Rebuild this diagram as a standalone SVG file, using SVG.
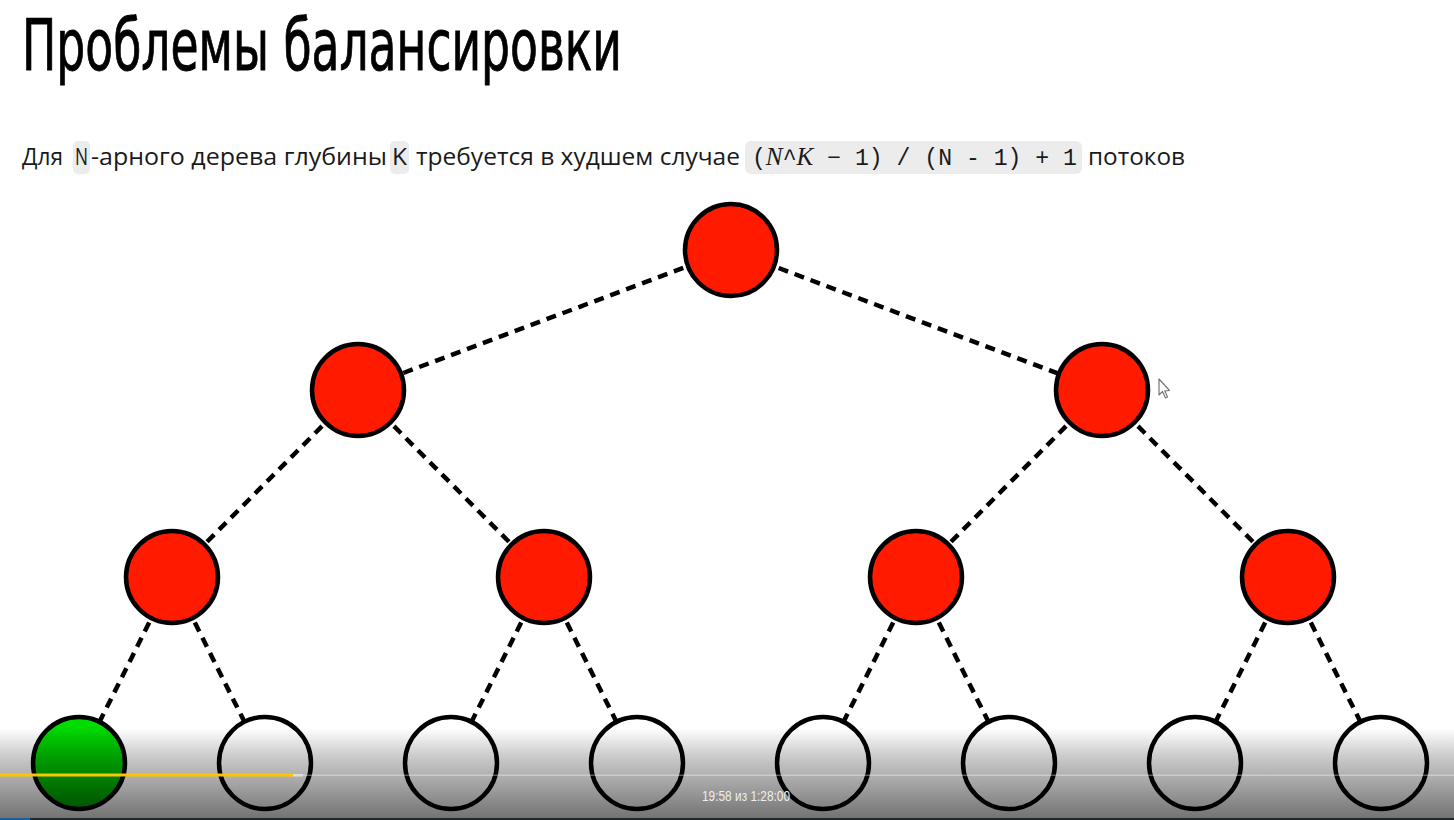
<svg xmlns="http://www.w3.org/2000/svg" width="1454" height="820" viewBox="0 0 1454 820">
  <style>
    .edge { stroke: #000; stroke-width: 4.5; stroke-dasharray: 10 7; fill: none; }
    .node { stroke: #000; stroke-width: 4.5; }
    .red { fill: #ff1a00; }
    .green { fill: url(#greenFill); }
    .empty { fill: #fff; }
    .txt { font-family: "Open Sans", "Noto Sans", sans-serif; font-size: 24px; fill: #1a1a1a; }
    .mono { font-family: "Liberation Mono", "DejaVu Sans Mono", monospace; font-size: 23px; fill: #1a1a1a; }
    .chip { fill: #ececec; }
  </style>
  <defs>
    <linearGradient id="greenFill" x1="0" y1="0" x2="0" y2="1">
      <stop offset="0" stop-color="#00e000"/>
      <stop offset="1" stop-color="#00a800"/>
    </linearGradient>
    <linearGradient id="shade" x1="0" y1="0" x2="0" y2="1">
      <stop offset="0" stop-color="#000" stop-opacity="0"/>
      <stop offset="0.3" stop-color="#000" stop-opacity="0.2"/>
      <stop offset="1" stop-color="#000" stop-opacity="0.56"/>
    </linearGradient>
  </defs>

  <rect width="1454" height="820" fill="#fff"/>

  <!-- heading -->
  <text x="22" y="70" font-family="DejaVu Sans, sans-serif" font-size="72" font-stretch="condensed" fill="#000" stroke="#000" stroke-width="0.9" textLength="600" lengthAdjust="spacingAndGlyphs">Проблемы балансировки</text>

  <!-- statement line with inline code chips -->
  <g id="statement">
    <rect class="chip" x="73" y="141" width="17" height="33" rx="5"/>
    <rect class="chip" x="390" y="141" width="19" height="33" rx="5"/>
    <rect class="chip" x="745" y="141" width="337" height="33" rx="6"/>
    <text class="txt" x="22" y="165" textLength="41" lengthAdjust="spacingAndGlyphs">Для</text>
    <text class="txt" x="75" y="165" textLength="13" lengthAdjust="spacingAndGlyphs">N</text>
    <text class="txt" x="91" y="165" textLength="296" lengthAdjust="spacingAndGlyphs">-арного дерева глубины</text>
    <text class="txt" x="392" y="165" textLength="15" lengthAdjust="spacingAndGlyphs">K</text>
    <text class="txt" x="416" y="165" textLength="324" lengthAdjust="spacingAndGlyphs">требуется в худшем случае</text>
    <text class="mono" x="752" y="165" textLength="325" lengthAdjust="spacingAndGlyphs">(<tspan font-family="Liberation Serif, serif" font-style="italic" font-size="25">N</tspan>^<tspan font-family="Liberation Serif, serif" font-style="italic" font-size="25">K</tspan> − 1) / (N - 1) + 1</text>
    <text class="txt" x="1088" y="165" textLength="97" lengthAdjust="spacingAndGlyphs">потоков</text>
  </g>

  <!-- tree edges -->
  <g id="edges">
    <line class="edge" x1="731" y1="250" x2="358" y2="390"/>
    <line class="edge" x1="731" y1="250" x2="1102" y2="390"/>
    <line class="edge" x1="358" y1="390" x2="172" y2="577"/>
    <line class="edge" x1="358" y1="390" x2="544" y2="577"/>
    <line class="edge" x1="1102" y1="390" x2="916" y2="577"/>
    <line class="edge" x1="1102" y1="390" x2="1288" y2="577"/>
    <line class="edge" x1="172" y1="577" x2="79" y2="763"/>
    <line class="edge" x1="172" y1="577" x2="265" y2="763"/>
    <line class="edge" x1="544" y1="577" x2="451" y2="763"/>
    <line class="edge" x1="544" y1="577" x2="637" y2="763"/>
    <line class="edge" x1="916" y1="577" x2="823" y2="763"/>
    <line class="edge" x1="916" y1="577" x2="1009" y2="763"/>
    <line class="edge" x1="1288" y1="577" x2="1195" y2="763"/>
    <line class="edge" x1="1288" y1="577" x2="1381" y2="763"/>
  </g>

  <!-- tree nodes -->
  <g id="n0"><circle class="node red" cx="731" cy="250" r="46"/></g>
  <g id="n1"><circle class="node red" cx="358" cy="390" r="46"/></g>
  <g id="n2"><circle class="node red" cx="1102" cy="390" r="46"/></g>
  <g id="n3"><circle class="node red" cx="172" cy="577" r="46"/></g>
  <g id="n4"><circle class="node red" cx="544" cy="577" r="46"/></g>
  <g id="n5"><circle class="node red" cx="916" cy="577" r="46"/></g>
  <g id="n6"><circle class="node red" cx="1288" cy="577" r="46"/></g>
  <g id="n7"><circle class="node green" cx="79" cy="763" r="46"/></g>
  <g id="n8"><circle class="node empty" cx="265" cy="763" r="46"/></g>
  <g id="n9"><circle class="node empty" cx="451" cy="763" r="46"/></g>
  <g id="n10"><circle class="node empty" cx="637" cy="763" r="46"/></g>
  <g id="n11"><circle class="node empty" cx="823" cy="763" r="46"/></g>
  <g id="n12"><circle class="node empty" cx="1009" cy="763" r="46"/></g>
  <g id="n13"><circle class="node empty" cx="1195" cy="763" r="46"/></g>
  <g id="n14"><circle class="node empty" cx="1381" cy="763" r="46"/></g>

  <!-- mouse pointer -->
  <path d="M1159 379 L1159 395 L1162.5 391.5 L1165.5 398 L1167.5 397 L1164.8 390.8 L1169.5 390.5 Z" fill="#fff" stroke="#777" stroke-width="1.2" stroke-linejoin="round"/>

  <!-- player bar -->
  <g id="player">
    <rect x="0" y="728" width="1454" height="92" fill="url(#shade)"/>
    <rect x="0" y="774.5" width="1454" height="1.5" fill="#fff" fill-opacity="0.35"/>
    <rect x="293" y="774" width="10" height="2.5" fill="#ddd"/>
    <rect x="0" y="773.5" width="293" height="3" fill="#ffc400"/>
    <text x="702" y="801" font-family="Liberation Sans, Arial, sans-serif" font-size="14" fill="#eee" textLength="88" lengthAdjust="spacingAndGlyphs">19:58 из 1:28:00</text>
    <rect x="0" y="818" width="1454" height="2" fill="#1e2a30"/>
    <rect x="0" y="818" width="30" height="2" fill="#1d5f98"/>
  </g>
</svg>
